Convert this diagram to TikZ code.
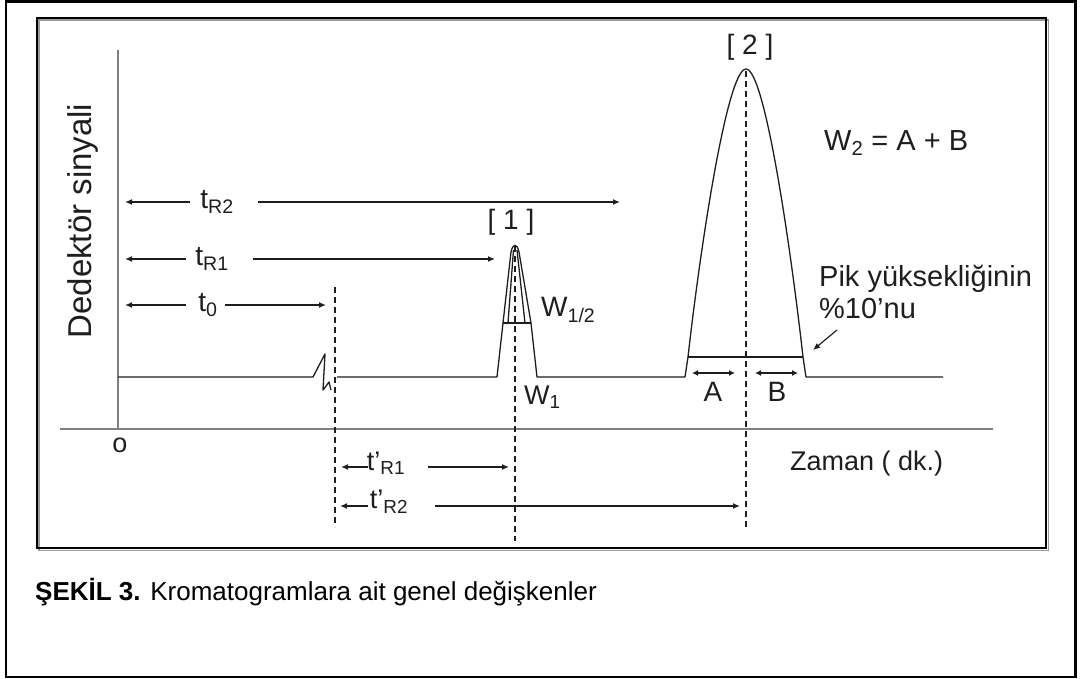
\documentclass[tikz,border=0pt]{standalone}
\usepackage{fontspec}
\setmainfont{Liberation Sans}
\usetikzlibrary{arrows.meta}
\definecolor{ink}{HTML}{1E1E1E}
\definecolor{axisgray}{HTML}{808080}
\definecolor{shadowgray}{HTML}{9A9A9A}
\begin{document}
\begin{tikzpicture}[x=1pt,y=-1pt,
  lab/.style={font=\fontsize{28}{32}\selectfont, text=ink, inner sep=0pt},
  midlab/.style={font=\fontsize{27}{31}\selectfont, text=ink, inner sep=0pt},
  biglab/.style={font=\fontsize{29}{32}\selectfont, text=ink, inner sep=0pt},
  curve/.style={draw=ink, line width=1.3pt, line join=round},
  axisline/.style={draw=axisgray, line width=2.6pt},
  dimarrow/.style={draw=ink, line width=2pt, -{Latex[length=7pt,width=6pt]}},
  smallarrow/.style={draw=ink, line width=2pt, {Latex[length=6pt,width=6pt]}-{Latex[length=6pt,width=6pt]}},
  guide/.style={draw=ink, line width=1.4pt, dash pattern=on 6pt off 4pt}]
\useasboundingbox (0,0) rectangle (1080,679);
% frames
\draw[black, line width=2.5pt] (6,1.5) rectangle (1075.5,677);
\draw[shadowgray, line width=1.8pt] (39,20) rectangle (1048.5,550.5);
\draw[black, line width=2pt] (37,18) rectangle (1046,548);
% axes
\coordinate (ytop) at (118,50);
\coordinate (origin) at (118,429);
\coordinate (xleft) at (60,429);
\coordinate (xright) at (993,429);
\draw[axisline] (ytop) -- (origin);
\draw[axisline] (xleft) -- (xright);
\node[midlab] (o) at (120,445) {o};
\node[font=\fontsize{33}{36}\selectfont, text=ink, inner sep=0pt, rotate=90] (ylab) at (83,221) {Dedektör sinyali};
\node[midlab, anchor=west] (xlab) at (790,464) {Zaman ( dk.)};
% chromatogram trace
\draw[curve] (118,377) -- (313,377) -- (325,354) -- (323,390) -- (329,382) -- (331,390);
\draw[curve] (337,377) -- (497,377) -- (503,323) -- (511,252)
  .. controls (513,243) and (517,243) .. (519,252) -- (531,323) -- (537,377) -- (685,377)
  -- (688,357) .. controls (700,250) and (727,69) .. (746,69)
  .. controls (765,69) and (791,250) .. (803,357) -- (806,377) -- (943,377);
\draw[curve] (508,323) -- (513.5,250);
\draw[curve] (525,323) -- (517,250);
\draw[curve] (503,323) -- (531,323);
\draw[curve] (688,357) -- (803,357);
% guide lines
\draw[guide] (335,287) -- (335,527);
\draw[guide] (515,246) -- (515,541);
\draw[guide] (746,71) -- (746,530);
% peak labels
\node[lab] (p1) at (511,222) {[ 1 ]};
\node[lab] (p2) at (750,47) {[ 2 ]};
\node[biglab, anchor=west] (w2) at (824,143) {W\textsubscript{2} = A + B};
\node[lab, anchor=west] (whalf) at (541,310) {W\textsubscript{1/2}};
\node[midlab, anchor=west] (w1) at (524,397) {W\textsubscript{1}};
\node[lab] (la) at (713,392) {A};
\node[lab] (lb) at (777,392) {B};
\node[biglab, anchor=west, align=left] (pik) at (819,292) {Pik yüksekliğinin\\\%10'nu};
\coordinate (pikA) at (837,330);
\coordinate (pikB) at (813,350);
\draw[draw=ink, line width=1.2pt, -{Latex[length=7pt,width=6pt]}] (pikA) -- (pikB);
% A and B widths
\coordinate (a1) at (692,373); \coordinate (a2) at (735,373);
\coordinate (b1) at (755,373); \coordinate (b2) at (798,373);
\draw[smallarrow] (a1) -- (a2);
\draw[smallarrow] (b1) -- (b2);
% retention time arrows
\node[lab] (tR2) at (217,202) {t\textsubscript{R2}};
\node[lab] (tR1) at (212,259) {t\textsubscript{R1}};
\node[lab] (t0) at (208,305) {t\textsubscript{0}};
\coordinate (tR2a) at (190,202); \coordinate (tR2b) at (125,202);
\coordinate (tR2c) at (258,202); \coordinate (tR2d) at (620,202);
\coordinate (tR1a) at (186,259); \coordinate (tR1b) at (125,259);
\coordinate (tR1c) at (253,259); \coordinate (tR1d) at (495,259);
\coordinate (t0a) at (186,305); \coordinate (t0b) at (125,305);
\coordinate (t0c) at (225,305); \coordinate (t0d) at (326,305);
\draw[dimarrow] (tR2a) -- (tR2b);
\draw[dimarrow] (tR2c) -- (tR2d);
\draw[dimarrow] (tR1a) -- (tR1b);
\draw[dimarrow] (tR1c) -- (tR1d);
\draw[dimarrow] (t0a) -- (t0b);
\draw[dimarrow] (t0c) -- (t0d);
% adjusted retention times
\node[midlab] (tpR1) at (386,463) {t'\textsubscript{R1}};
\node[midlab] (tpR2) at (389,502) {t'\textsubscript{R2}};
\coordinate (tp1a) at (368,467); \coordinate (tp1b) at (341,467);
\coordinate (tp1c) at (428,467); \coordinate (tp1d) at (509,467);
\coordinate (tp2a) at (368,506); \coordinate (tp2b) at (340,506);
\coordinate (tp2c) at (435,506); \coordinate (tp2d) at (740,506);
\draw[dimarrow] (tp1a) -- (tp1b);
\draw[dimarrow] (tp1c) -- (tp1d);
\draw[dimarrow] (tp2a) -- (tp2b);
\draw[dimarrow] (tp2c) -- (tp2d);
% caption
\node[font=\fontsize{26}{30}\selectfont, inner sep=0pt, anchor=base west, text=black] (cap) at (35,600) {\textbf{ŞEKİL 3.} Kromatogramlara ait genel değişkenler};
\end{tikzpicture}
\end{document}
